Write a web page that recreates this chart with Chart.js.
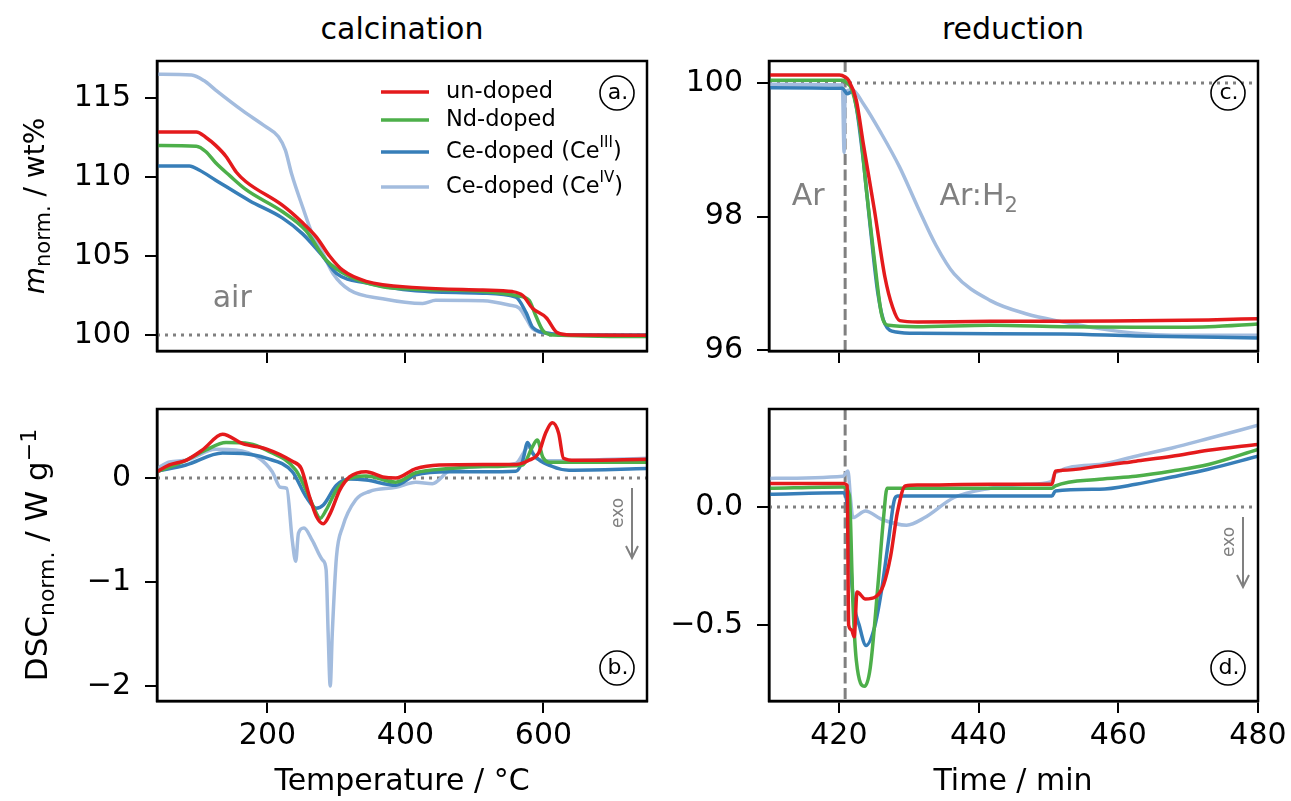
<!DOCTYPE html>
<html>
<head>
<meta charset="utf-8">
<script src="https://cdn.jsdelivr.net/npm/chart.js@4.4.0/dist/chart.umd.min.js"></script>
<style>
  body { margin: 0; background: #fff; width: 1291px; height: 801px; overflow: hidden; position: relative; font-family: 'DejaVu Sans', sans-serif; }
  canvas { position: absolute; }
  .lbl { position: absolute; font-size: 30px; color: #000; white-space: nowrap; transform: translate(-50%, -50%); }
  .rot { transform: translate(-50%, -50%) rotate(-90deg); }
  .lbl sub, .lbl sup { font-size: 21px; line-height: 0; }
</style>
</head>
<body>
<canvas id="pa"></canvas>
<canvas id="pb"></canvas>
<canvas id="pc"></canvas>
<canvas id="pd"></canvas>

<div class="lbl" style="left:402px;top:28px">calcination</div>
<div class="lbl" style="left:1013px;top:28px">reduction</div>
<div class="lbl" style="left:402px;top:779px">Temperature / °C</div>
<div class="lbl" style="left:1013px;top:779px">Time / min</div>
<div class="lbl rot" style="left:34px;top:206px;font-size:28px"><i>m</i><sub>norm.</sub> / wt%</div>
<div class="lbl rot" style="left:36px;top:555px;font-size:31px">DSC<sub style="font-size:22px">norm.</sub> / W g<sup style="font-size:22px">−1</sup></div>

<script>
const COLORS = ['#e41a1c', '#4daf4a', '#377eb8', '#a3bcde'];
// legend parts: normal, superscript, normal
const seriesLabels = [['un-doped'], ['Nd-doped'], ['Ce-doped (Ce', 'III', ')'], ['Ce-doped (Ce', 'IV', ')']];

const tempTicks = [200, 400, 600];
const timeTicks = [420, 440, 460, 480];
const massCalcTicks = [100, 105, 110, 115];
const dscCalcTicks = [-2, -1, 0];
const massRedTicks = [96, 98, 100];
const dscRedTicks = [-0.5, 0];

// a. mass during calcination  [T / °C, wt%]
const massUndoped = [[40,112.85],[97,112.85],[111,112.5],[125,112.0],[140,111.3],[155,110.3],[169,109.7],[222,108.2],[251,107.1],[271,106.2],[290,105.0],[309,104.1],[343,103.4],[416,103.0],[512,102.85],[555,102.75],[570,102.5],[584,101.7],[604,101.1],[620,100.15],[640,100.0],[750,99.98]];
const massNd = [[40,112.0],[97,111.95],[111,111.6],[125,110.9],[145,110.1],[169,109.2],[222,107.8],[256,106.6],[285,104.75],[319,103.7],[367,103.05],[415,102.9],[512,102.75],[560,102.5],[579,102.2],[589,101.2],[599,100.3],[615,100.0],[750,99.9]];
const massCe3 = [[40,110.7],[87,110.7],[101,110.44],[125,109.8],[174,108.5],[222,107.4],[251,106.4],[280,105.0],[300,103.9],[343,103.3],[415,102.8],[512,102.65],[560,102.4],[575,101.4],[584,100.5],[609,100.1],[640,100.0],[750,100.0]];
const massCe4 = [[40,116.5],[90,116.45],[108,116.1],[125,115.5],[164,114.2],[197,113.2],[216,112.55],[226,111.7],[235,110.2],[251,108.1],[265,106.4],[280,105.2],[295,103.9],[319,102.85],[367,102.3],[425,102.0],[444,102.2],[512,102.17],[550,101.9],[565,101.7],[575,101.05],[584,100.4],[609,100.1],[650,100.0],[750,99.95]];

// b. DSC during calcination  [T / °C, W/g]
const dscUndoped = [[40,0.06],[58,0.125],[82,0.17],[106,0.27],[135,0.42],[164,0.33],[198,0.28],[236,0.16],[249,0.09],[261,-0.18],[271,-0.37],[281,-0.44],[291,-0.34],[305,-0.115],[319,0.01],[343,0.06],[367,0.01],[386,0.0],[415,0.09],[449,0.125],[512,0.13],[560,0.13],[579,0.17],[593,0.24],[603,0.43],[613,0.53],[622,0.43],[629,0.19],[646,0.17],[750,0.18]];
const dscNd = [[40,0.06],[82,0.17],[111,0.27],[140,0.34],[174,0.33],[198,0.27],[241,0.077],[256,-0.115],[271,-0.34],[276,-0.39],[285,-0.31],[300,-0.115],[314,-0.02],[343,0.02],[386,-0.04],[415,0.05],[464,0.09],[512,0.11],[570,0.125],[584,0.3],[591,0.365],[599,0.2],[609,0.15],[750,0.15]];
const dscCe3 = [[40,0.065],[82,0.125],[135,0.24],[164,0.235],[198,0.19],[236,0.06],[256,-0.18],[271,-0.29],[281,-0.26],[300,-0.07],[319,-0.01],[343,-0.02],[386,-0.07],[415,0.03],[464,0.06],[512,0.06],[560,0.065],[570,0.17],[577,0.34],[584,0.24],[613,0.11],[637,0.075],[750,0.09]];
const dscCe4 = [[40,0.09],[58,0.155],[82,0.17],[125,0.275],[154,0.27],[188,0.19],[207,0.06],[219,-0.09],[228,-0.1],[236,-0.6],[241,-0.8],[245,-0.53],[253,-0.48],[265,-0.6],[280,-0.79],[285,-0.88],[288,-1.49],[291,-2.0],[294,-1.49],[300,-0.76],[309,-0.47],[328,-0.21],[348,-0.13],[386,-0.09],[415,-0.04],[439,-0.055],[464,0.07],[512,0.11],[560,0.14],[579,0.3],[589,0.19],[609,0.165],[750,0.19]];

// c. mass during reduction  [t / min, wt%]
const redUndoped = [[410,100.12],[420.1,100.12],[420.9,100.09],[421.4,100.04],[422.5,99.74],[423.5,99.09],[425.1,98.09],[426.6,97.09],[427.7,96.64],[428.7,96.44],[431.3,96.42],[441.7,96.43],[452.1,96.43],[462.5,96.44],[472.9,96.45],[480,96.47]];
const redNd = [[410,100.04],[420.5,100.04],[420.9,100.02],[421.9,99.89],[423,99.34],[424,98.34],[425.1,97.34],[426.1,96.54],[427.1,96.37],[431,96.35],[441.7,96.37],[452,96.35],[462.5,96.34],[473,96.35],[480,96.39]];
const redCe3 = [[410,99.93],[420.5,99.92],[421.2,99.84],[421.9,99.87],[422.5,99.64],[423.5,98.84],[424.5,97.84],[425.6,96.84],[426.6,96.39],[428.2,96.27],[431.3,96.25],[452,96.24],[462.5,96.21],[480,96.18]];
const redCe4 = [[410,99.98],[420.5,99.97],[420.75,98.96],[420.9,99.86],[421.9,99.9],[423.5,99.69],[426.1,99.24],[428.7,98.74],[431.3,98.14],[433.9,97.57],[436.5,97.14],[441.7,96.74],[446.9,96.54],[452.1,96.42],[457.3,96.32],[462.5,96.25],[467.7,96.22],[480,96.22]];

// d. DSC during reduction  [t / min, W/g]
const dscRedUndoped = [[410,0.099],[420.6,0.099],[421.2,0.09],[421.4,-0.5],[421.8,-0.52],[422.2,-0.55],[422.6,-0.36],[423.8,-0.39],[425.3,-0.38],[426.4,-0.33],[427.4,-0.21],[428.4,-0.02],[429.5,0.089],[431.3,0.093],[441.7,0.096],[450.5,0.096],[451,0.152],[452,0.155],[457.3,0.173],[462.5,0.194],[467.7,0.215],[472.9,0.24],[480,0.265]];
const dscRedNd = [[410,0.079],[420.6,0.085],[421.5,0.05],[422,-0.4],[422.5,-0.65],[423.7,-0.76],[424.5,-0.68],[425.6,-0.33],[426.4,-0.045],[426.9,0.079],[431,0.079],[450.5,0.079],[451,0.089],[457.3,0.117],[462.5,0.13],[467.7,0.152],[472.9,0.18],[480,0.244]];
const dscRedCe3 = [[410,0.054],[420.6,0.06],[421.4,-0.045],[421.9,-0.34],[423,-0.51],[423.9,-0.587],[425.1,-0.51],[426.1,-0.355],[427.1,-0.144],[427.9,0.025],[428.4,0.046],[431,0.046],[450.5,0.046],[451,0.068],[457.3,0.075],[462.5,0.096],[467.7,0.127],[472.9,0.16],[480,0.215]];
const dscRedCe4 = [[410,0.121],[420.6,0.13],[421.3,0.152],[421.7,0.025],[422,-0.045],[423.8,-0.017],[426.1,-0.052],[429.7,-0.077],[432.3,-0.045],[436.5,0.04],[441.7,0.079],[446.9,0.096],[450.4,0.107],[451,0.145],[457.3,0.18],[462.5,0.215],[467.7,0.25],[472.9,0.29],[480,0.346]];

const FONT = "'DejaVu Sans', sans-serif";
const GRAY = '#808080';
const YW = 110, XH = 75, PT = 15, PR = 40;

function minus(v, digits) {
  const s = digits ? Math.abs(v).toFixed(digits) : String(Math.abs(v));
  return v < 0 ? '\u2212' + s : s;
}

function line(ctx, x1, y1, x2, y2) {
  ctx.beginPath(); ctx.moveTo(x1, y1); ctx.lineTo(x2, y2); ctx.stroke();
}

function noPad(s) {
  s.paddingTop = 0; s.paddingBottom = 0; s.paddingLeft = 0; s.paddingRight = 0;
}

const decor = {
  id: 'decor',
  beforeDatasetsDraw(chart, args, o) {
    const { ctx, chartArea: a, scales: { x, y } } = chart;
    ctx.save();
    ctx.strokeStyle = GRAY;
    ctx.lineWidth = 3;
    if (o.refY !== undefined) {
      ctx.setLineDash([3, 5]);
      const py = y.getPixelForValue(o.refY);
      line(ctx, a.left, py, a.right, py);
    }
    if (o.vline !== undefined) {
      ctx.setLineDash([11, 4.5]);
      const px = x.getPixelForValue(o.vline);
      line(ctx, px, a.top, px, a.bottom);
    }
    ctx.restore();
  },
  afterDatasetsDraw(chart, args, o) {
    const { ctx, chartArea: a, scales: { x, y } } = chart;
    ctx.save();
    ctx.setLineDash([]);

    // frame
    ctx.strokeStyle = '#000';
    ctx.lineWidth = 2.5;
    ctx.strokeRect(a.left, a.top, a.right - a.left, a.bottom - a.top);

    // circled panel letter
    if (o.letter) {
      const cx = a.right - 30;
      const cy = o.letterBottom ? a.bottom - 33 : a.top + 32;
      ctx.lineWidth = 1.6;
      ctx.beginPath(); ctx.arc(cx, cy, 17, 0, Math.PI * 2); ctx.stroke();
      ctx.fillStyle = '#000';
      ctx.font = '22px ' + FONT;
      ctx.textAlign = 'center'; ctx.textBaseline = 'middle';
      ctx.fillText(o.letter, cx + 1, cy);
    }

    // exo arrow
    if (o.exo) {
      const y0 = y.getPixelForValue(0);
      const ax = a.right - 15;
      ctx.strokeStyle = GRAY; ctx.fillStyle = GRAY;
      ctx.lineWidth = 2;
      line(ctx, ax, y0 + 10, ax, y0 + 80);
      ctx.beginPath();
      ctx.moveTo(ax - 6, y0 + 68); ctx.lineTo(ax, y0 + 80); ctx.lineTo(ax + 6, y0 + 68);
      ctx.stroke();
      ctx.save();
      ctx.translate(a.right - 28, y0 + 35);
      ctx.rotate(-Math.PI / 2);
      ctx.font = '17px ' + FONT;
      ctx.textAlign = 'center'; ctx.textBaseline = 'middle';
      ctx.fillText('exo', 0, 0);
      ctx.restore();
    }

    // gray annotations: [text, x, y, align, subscript]
    (o.texts || []).forEach(t => {
      ctx.fillStyle = GRAY;
      ctx.font = '30px ' + FONT;
      ctx.textAlign = t[3]; ctx.textBaseline = 'middle';
      const px = x.getPixelForValue(t[1]);
      const py = y.getPixelForValue(t[2]);
      ctx.fillText(t[0], px, py);
      if (t[4]) {
        const w = ctx.measureText(t[0]).width;
        ctx.font = '21px ' + FONT;
        ctx.textAlign = 'left';
        ctx.fillText(t[4], t[3] === 'left' ? px + w : px + w / 2, py + 9);
      }
    });

    // legend
    if (o.legend) {
      const rows = [31, 59, 91, 126];
      o.legend.forEach((parts, i) => {
        const yy = a.top + rows[i];
        ctx.strokeStyle = COLORS[i];
        ctx.lineWidth = 3.5;
        line(ctx, a.left + 224, yy, a.left + 272, yy);
        let xx = a.left + 289;
        ctx.fillStyle = '#000';
        ctx.textAlign = 'left'; ctx.textBaseline = 'middle';
        parts.forEach((p, j) => {
          if (j % 2 === 1) {
            ctx.font = '15px ' + FONT;
            ctx.fillText(p, xx, yy - 9);
          } else {
            ctx.font = '22.5px ' + FONT;
            ctx.fillText(p, xx, yy);
          }
          xx += ctx.measureText(p).width;
        });
      });
    }
    ctx.restore();
  }
};

function makePanel(id, box, series, xr, yr, opt) {
  const cv = document.getElementById(id);
  const w = box.right - box.left + YW + PR;
  const h = box.bottom - box.top + PT + XH;
  cv.width = w; cv.height = h;
  cv.style.left = (box.left - YW) + 'px';
  cv.style.top = (box.top - PT) + 'px';

  const axisCommon = {
    type: 'linear',
    grid: { drawOnChartArea: false, drawTicks: true, tickLength: 12, color: '#000', lineWidth: 2 },
    border: { display: true, color: '#000', width: 2.5 }
  };

  new Chart(cv.getContext('2d'), {
    type: 'line',
    data: {
      datasets: series.map((s, i) => ({
        data: s.map(p => ({ x: p[0], y: p[1] })),
        borderColor: COLORS[i],
        borderWidth: 3.5,
        pointRadius: 0,
        cubicInterpolationMode: 'monotone',
        fill: false
      }))
    },
    options: {
      responsive: false,
      animation: false,
      devicePixelRatio: 1,
      layout: { padding: { left: 0, top: PT, right: PR, bottom: 0 } },
      plugins: {
        legend: { display: false },
        tooltip: { enabled: false },
        decor: opt.decor
      },
      scales: {
        x: Object.assign({}, axisCommon, {
          min: xr[0], max: xr[1],
          afterBuildTicks: s => { s.ticks = xr[2].map(v => ({ value: v })); },
          afterFit: s => { s.height = XH; noPad(s); },
          ticks: {
            autoSkip: false, maxRotation: 0, padding: 5,
            color: '#000', font: { family: FONT, size: 30 },
            callback: v => opt.xLabels ? String(v) : ''
          }
        }),
        y: Object.assign({}, axisCommon, {
          min: yr[0], max: yr[1],
          afterBuildTicks: s => { s.ticks = yr[2].map(v => ({ value: v })); },
          afterFit: s => { s.width = YW; noPad(s); },
          ticks: {
            autoSkip: false, padding: 14,
            color: '#000', font: { family: FONT, size: 30 },
            callback: v => minus(v, opt.yDigits)
          }
        })
      }
    },
    plugins: [decor]
  });
}

makePanel('pa', { left: 157, top: 61, right: 647, bottom: 351 },
  [massUndoped, massNd, massCe3, massCe4], [40, 750, tempTicks], [98.99, 117.34, massCalcTicks],
  { decor: { refY: 100, letter: 'a.', legend: seriesLabels, texts: [['air', 149, 102.28, 'center']] } });

makePanel('pb', { left: 157, top: 409, right: 647, bottom: 701 },
  [dscUndoped, dscNd, dscCe3, dscCe4], [40, 750, tempTicks], [-2.144, 0.663, dscCalcTicks],
  { xLabels: true, decor: { refY: 0, letter: 'b.', letterBottom: true, exo: true } });

makePanel('pc', { left: 769, top: 61, right: 1258, bottom: 351 },
  [redUndoped, redNd, redCe3, redCe4], [410, 480, timeTicks], [95.985, 100.33, massRedTicks],
  { decor: { refY: 100, vline: 420.9, letter: 'c.', texts: [['Ar', 415.6, 98.29, 'center'], ['Ar:H', 434.4, 98.29, 'left', '2']] } });

makePanel('pd', { left: 769, top: 409, right: 1258, bottom: 701 },
  [dscRedUndoped, dscRedNd, dscRedCe3, dscRedCe4], [410, 480, timeTicks], [-0.822, 0.415, dscRedTicks],
  { xLabels: true, yDigits: 1, decor: { refY: 0, vline: 420.9, letter: 'd.', letterBottom: true, exo: true } });
</script>
</body>
</html>
